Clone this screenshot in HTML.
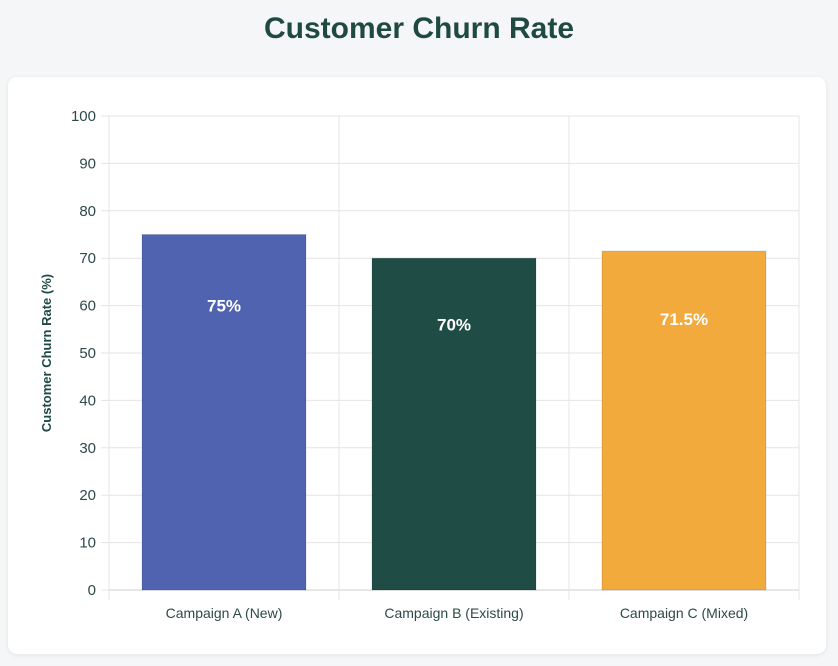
<!DOCTYPE html>
<html><head><meta charset="utf-8">
<style>
body{margin:0;width:838px;height:666px;background:#f5f6f7;font-family:"Liberation Sans",sans-serif;overflow:hidden;position:relative}
h1{position:absolute;top:12px;left:0;width:838px;margin:0;text-align:center;font-size:30px;font-weight:bold;color:#1f4a44}
.card{position:absolute;left:8px;top:77px;width:818px;height:577px;background:#fff;border-radius:9px;box-shadow:0 1px 4px rgba(0,0,0,0.08)}
svg{position:absolute;left:0;top:0}
</style></head><body>
<h1>Customer Churn Rate</h1>
<div class="card"></div>
<svg id="chart" width="838" height="666"></svg>
<script>
const categories=["Campaign A (New)","Campaign B (Existing)","Campaign C (Mixed)"];
const values=[75,70,71.5];
const valueLabels=["75%","70%","71.5%"];
const colors=["#5063b0","#1f4d45","#f2aa3c"];
const yTicks=[0,10,20,30,40,50,60,70,80,90,100];
const NS="http://www.w3.org/2000/svg";
const svg=document.getElementById('chart');
const L=109,R=799,T=116,B=590,yMax=100;
const bw=(R-L)/categories.length;
const y=v=>B-(v/yMax)*(B-T);
const x=i=>L+i*bw;
function mk(t,a,p){const e=document.createElementNS(NS,t);for(const k in a)e.setAttribute(k,a[k]);(p||svg).appendChild(e);return e;}
yTicks.forEach(v=>{
 const g=mk('line',{x1:L,x2:R,y1:y(v),y2:y(v),stroke:v===0?'#cfcfcf':'#e4e4e4','stroke-width':1});
 
 
 const tk=mk('line',{x1:L-8,x2:L,y1:y(v),y2:y(v),stroke:'#e4e4e4'});
 
 
 const t=mk('text',{x:L-13,y:y(v)+5,'text-anchor':'end','font-size':15,fill:'#2d4a48'});
 t.textContent=v;
 
 
});
for(let i=0;i<=categories.length;i++){
 const g=mk('line',{x1:x(i),x2:x(i),y1:T,y2:B+10,stroke:'#e4e4e4'});
 
 
}
categories.forEach((c,i)=>{
 const w=164,cx=x(i)+bw/2;
 const r=mk('rect',{x:cx-w/2,y:y(values[i]),width:w,height:B-y(values[i]),fill:colors[i],stroke:'rgba(0,0,0,0.12)','stroke-width':1});
 
 
 const t=mk('text',{x:cx,y:y(values[i]*0.8)+6,'text-anchor':'middle','font-size':17,'font-weight':'bold',fill:'#fff'});
 t.textContent=valueLabels[i];
 
 
 const xl=mk('text',{x:cx,y:B+28,'text-anchor':'middle','font-size':14,fill:'#2d4a48'});
 xl.textContent=c;
 
 
});
const yt=mk('text',{x:0,y:0,transform:'translate(51,353) rotate(-90)','text-anchor':'middle','font-size':13,'font-weight':'bold',fill:'#1f4a44'});
yt.textContent='Customer Churn Rate (%)';


</script>
</body></html>
